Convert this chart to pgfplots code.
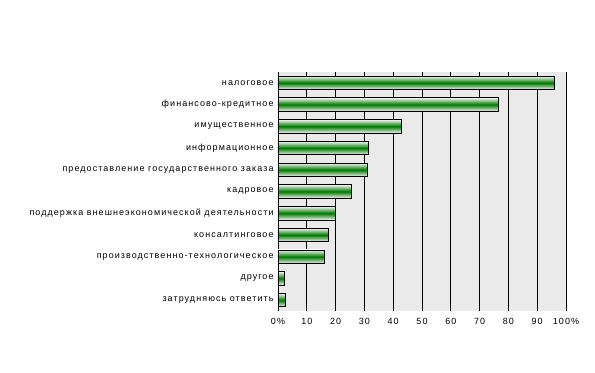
\documentclass[border=0pt]{standalone}
\usepackage{fontspec}
\setmainfont{Liberation Sans}[LetterSpace=12]
\usepackage{pgfplots}
\pgfplotsset{compat=1.18}
\definecolor{bg}{RGB}{234,234,234}
\definecolor{bargreen}{RGB}{0,120,0}
\definecolor{baredge}{RGB}{245,245,245}
\pgfplotsset{mybar/.style={draw=black, line width=0.8pt, top color=baredge, bottom color=baredge, middle color=bargreen, bar shift=0pt}}
\begin{document}
\begin{tikzpicture}
\begin{axis}[
  name=ax,
  scale only axis,
  width=288bp, height=239bp,
  xbar, bar width=0.62,
  xmin=0, xmax=100,
  ymin=-0.5, ymax=10.5,
  y dir=reverse,
  axis background/.style={fill=bg},
  axis y line*=left,
  axis x line*=bottom,
  x axis line style={draw=none},
  y axis line style={black, line width=0.8pt},
  xtick={0,10,...,100},
  xticklabels={0\%,10,20,30,40,50,60,70,80,90,100\%},
  xmajorgrids,
  major grid style={black, line width=0.8pt},
  major x tick style={draw=none},
  ytick={0,...,10},
  yticklabels={налоговое,финансово-кредитное,имущественное,информационное,предоставление государственного заказа,кадровое,поддержка внешнеэкономической деятельности,консалтинговое,производственно-технологическое,другое,затрудняюсь ответить},
  major y tick style={draw=none},
  extra y ticks={-0.5,0.5,...,10.5},
  extra y tick labels={},
  extra y tick style={tick align=outside, major tick length=4bp, tick style={black, line width=0.8pt}},
  tick label style={font=\fontsize{9}{10.8}\selectfont},
  yticklabel style={inner sep=0pt, xshift=0bp},
  xticklabel style={inner sep=0pt, yshift=-7bp},
  /pgf/number format/assume math mode=true,
  clip=false,
]
\addplot[mybar] coordinates {(96.0,0)};
\addplot[mybar] coordinates {(76.5,1)};
\addplot[mybar] coordinates {(42.8,2)};
\addplot[mybar] coordinates {(31.4,3)};
\addplot[mybar] coordinates {(31.0,4)};
\addplot[mybar] coordinates {(25.4,5)};
\addplot[mybar] coordinates {(19.9,6)};
\addplot[mybar] coordinates {(17.4,7)};
\addplot[mybar] coordinates {(16.0,8)};
\addplot[mybar] coordinates {(2.1,9)};
\addplot[mybar] coordinates {(2.5,10)};
\end{axis}
\path[use as bounding box] ([xshift=-278bp,yshift=-62bp]ax.south west) rectangle ([xshift=29bp,yshift=72bp]ax.north east);
\end{tikzpicture}
\end{document}
